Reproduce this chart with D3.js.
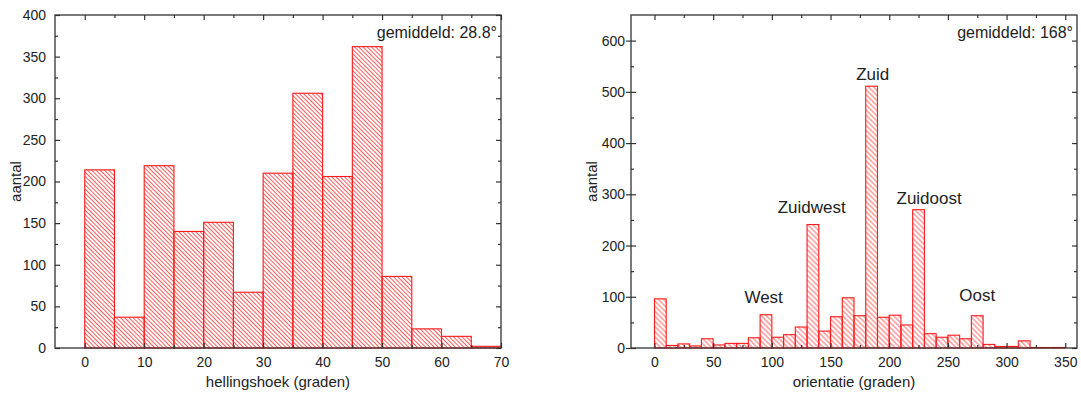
<!DOCTYPE html>
<html><head><meta charset="utf-8">
<script src="https://cdn.jsdelivr.net/npm/d3@7/dist/d3.min.js"></script>
<style>
html,body{margin:0;padding:0;background:#fff;}
text{font-family:"Liberation Sans",Arial,sans-serif;fill:#222;}
</style></head>
<body><svg id="c" width="1081" height="393"></svg>
<script>
// ---- Data ----
const slopeBinStart = [0,5,10,15,20,25,30,35,40,45,50,55,60,65];
const slopeBinWidth = 5;
const slopeCounts = [214,37,219,140,151,67,210,306,206,362,86,23,14,2];
const slopeMeanLabel = "gemiddeld: 28.8°";

const orientBinStart = [0,10,20,30,40,50,60,70,80,90,100,110,120,130,140,150,160,170,180,190,200,210,220,230,240,250,260,270,280,290,300,310,320,330,340];
const orientBinWidth = 10;
const orientCounts = [96,5,8,4,18,6,9,9,20,65,21,26,41,241,33,61,98,63,511,60,64,45,270,28,21,25,18,63,7,3,3,14,1,1,1];
const orientMeanLabel = "gemiddeld: 168°";

const annoLabels = ["West","Zuidwest","Zuid","Zuidoost","Oost"];
const annoX = [93,134,186,234,275];
const annoY = [88,263,524,282,91];

const slopeXTicks = [0,10,20,30,40,50,60,70];
const slopeXMinor = [-5,5,15,25,35,45,55,65];
const slopeYTicks = [0,50,100,150,200,250,300,350,400];
const slopeYMinor = [25,75,125,175,225,275,325,375];
const orientXTicks = [0,50,100,150,200,250,300,350];
const orientXMinor = [-25,25,75,125,175,225,275,325];
const orientYTicks = [0,100,200,300,400,500,600];
const orientYMinor = [50,150,250,350,450,550,650];

const svg = d3.select("#c");
const defs = svg.append("defs");
function hatch(id, h){
  const p = defs.append("pattern").attr("id", id).attr("patternUnits","userSpaceOnUse")
    .attr("width", 8).attr("height", h).attr("patternTransform","rotate(45)");
  p.append("line").attr("x1",0).attr("x2",8).attr("y1",h/2).attr("y2",h/2)
    .attr("stroke","#ff2a2a").attr("stroke-width",0.9).attr("stroke-opacity",0.85);
}
hatch("hL", 3);
hatch("hR", 3.6);

function panel(o){
  const g = svg.append("g");
  const x = d3.scaleLinear().domain(o.xDomain).range([o.left, o.right]);
  const y = d3.scaleLinear().domain(o.yDomain).range([o.bottom, o.top]);
  // bars
  g.append("g").selectAll("rect").data(o.starts).join("rect")
    .attr("x", (d)=>x(d))
    .attr("width", (d)=>x(d+o.bw)-x(d))
    .attr("y", (d,i)=>y(o.counts[i]))
    .attr("height", (d,i)=>y(0)-y(o.counts[i]))
    .attr("fill", "url(#"+o.pat+")")
    .attr("stroke", "#ff1a1a").attr("stroke-width", 1.1);
  const tickStyle = sel => { sel.select(".domain").remove(); sel.selectAll("line").attr("stroke","#333").attr("stroke-width",1.2); sel.selectAll("text").style("font-size","14px").style("font-family","Liberation Sans, Arial").attr("fill","#222"); };
  // bottom
  g.append("g").attr("transform",`translate(0,${o.bottom})`)
    .call(d3.axisBottom(x).tickValues(o.xt).tickSize(-5).tickPadding(9).tickFormat(d3.format("d"))).call(tickStyle);
  g.append("g").attr("transform",`translate(0,${o.bottom})`)
    .call(d3.axisBottom(x).tickValues(o.xm.filter(v=>v>o.xDomain[0])).tickSize(-3).tickFormat("")).call(tickStyle);
  // top
  g.append("g").attr("transform",`translate(0,${o.top})`)
    .call(d3.axisTop(x).tickValues(o.xt).tickSize(-5).tickFormat("")).call(tickStyle);
  g.append("g").attr("transform",`translate(0,${o.top})`)
    .call(d3.axisTop(x).tickValues(o.xm.filter(v=>v>o.xDomain[0])).tickSize(-3).tickFormat("")).call(tickStyle);
  // left
  const la = g.append("g").attr("transform",`translate(${o.left},0)`)
    .call(d3.axisLeft(y).tickValues(o.yt).tickSize(-5).tickPadding(o.yPad).tickFormat(d3.format("d"))).call(tickStyle);
  if (o.outMajor) {
    g.append("g").attr("transform",`translate(${o.left},0)`)
      .call(d3.axisLeft(y).tickValues(o.yt).tickSize(5).tickFormat("")).call(tickStyle);
  }
  g.append("g").attr("transform",`translate(${o.left},0)`)
    .call(d3.axisLeft(y).tickValues(o.ym.filter(v=>v<o.yDomain[1])).tickSize(-3).tickFormat("")).call(tickStyle);
  // right
  g.append("g").attr("transform",`translate(${o.right},0)`)
    .call(d3.axisRight(y).tickValues(o.yt).tickSize(-5).tickFormat("")).call(tickStyle);
  g.append("g").attr("transform",`translate(${o.right},0)`)
    .call(d3.axisRight(y).tickValues(o.ym.filter(v=>v<o.yDomain[1])).tickSize(-3).tickFormat("")).call(tickStyle);
  // frame
  g.append("rect").attr("x",o.left).attr("y",o.top).attr("width",o.right-o.left).attr("height",o.bottom-o.top)
    .attr("fill","none").attr("stroke","#333").attr("stroke-width",1.3);
  // titles
  g.append("text").attr("x",(o.left+o.right)/2).attr("y",387).attr("text-anchor","middle")
    .style("font-size","15px").text(o.xTitle);
  g.append("text").attr("transform",`translate(${o.yTitleX},${(o.top+o.bottom)/2}) rotate(-90)`)
    .attr("text-anchor","middle").style("font-size","15px").text("aantal");
  g.append("text").attr("x",o.right-4).attr("y",38).attr("text-anchor","end")
    .style("font-size","16px").text(o.mean);
  return {g,x,y};
}

panel({xDomain:[-5,70], yDomain:[0,400], left:55, right:501, top:15, bottom:348,
  starts:slopeBinStart, counts:slopeCounts, bw:slopeBinWidth, pat:"hL",
  xt:slopeXTicks, xm:slopeXMinor, yt:slopeYTicks, ym:slopeYMinor, yPad:9,
  xTitle:"hellingshoek (graden)", yTitleX:21, mean:slopeMeanLabel});

const R = panel({xDomain:[-20,360], yDomain:[0,650], left:631, right:1077, top:15, bottom:348,
  starts:orientBinStart, counts:orientCounts, bw:orientBinWidth, pat:"hR",
  xt:orientXTicks, xm:orientXMinor, yt:orientYTicks, ym:orientYMinor, yPad:6, outMajor:true,
  xTitle:"orientatie (graden)", yTitleX:597, mean:orientMeanLabel});

R.g.append("g").selectAll("text").data(annoLabels).join("text")
  .attr("x",(d,i)=>R.x(annoX[i])).attr("y",(d,i)=>R.y(annoY[i]))
  .attr("text-anchor","middle").style("font-size","17px").text(d=>d);
</script></body></html>
